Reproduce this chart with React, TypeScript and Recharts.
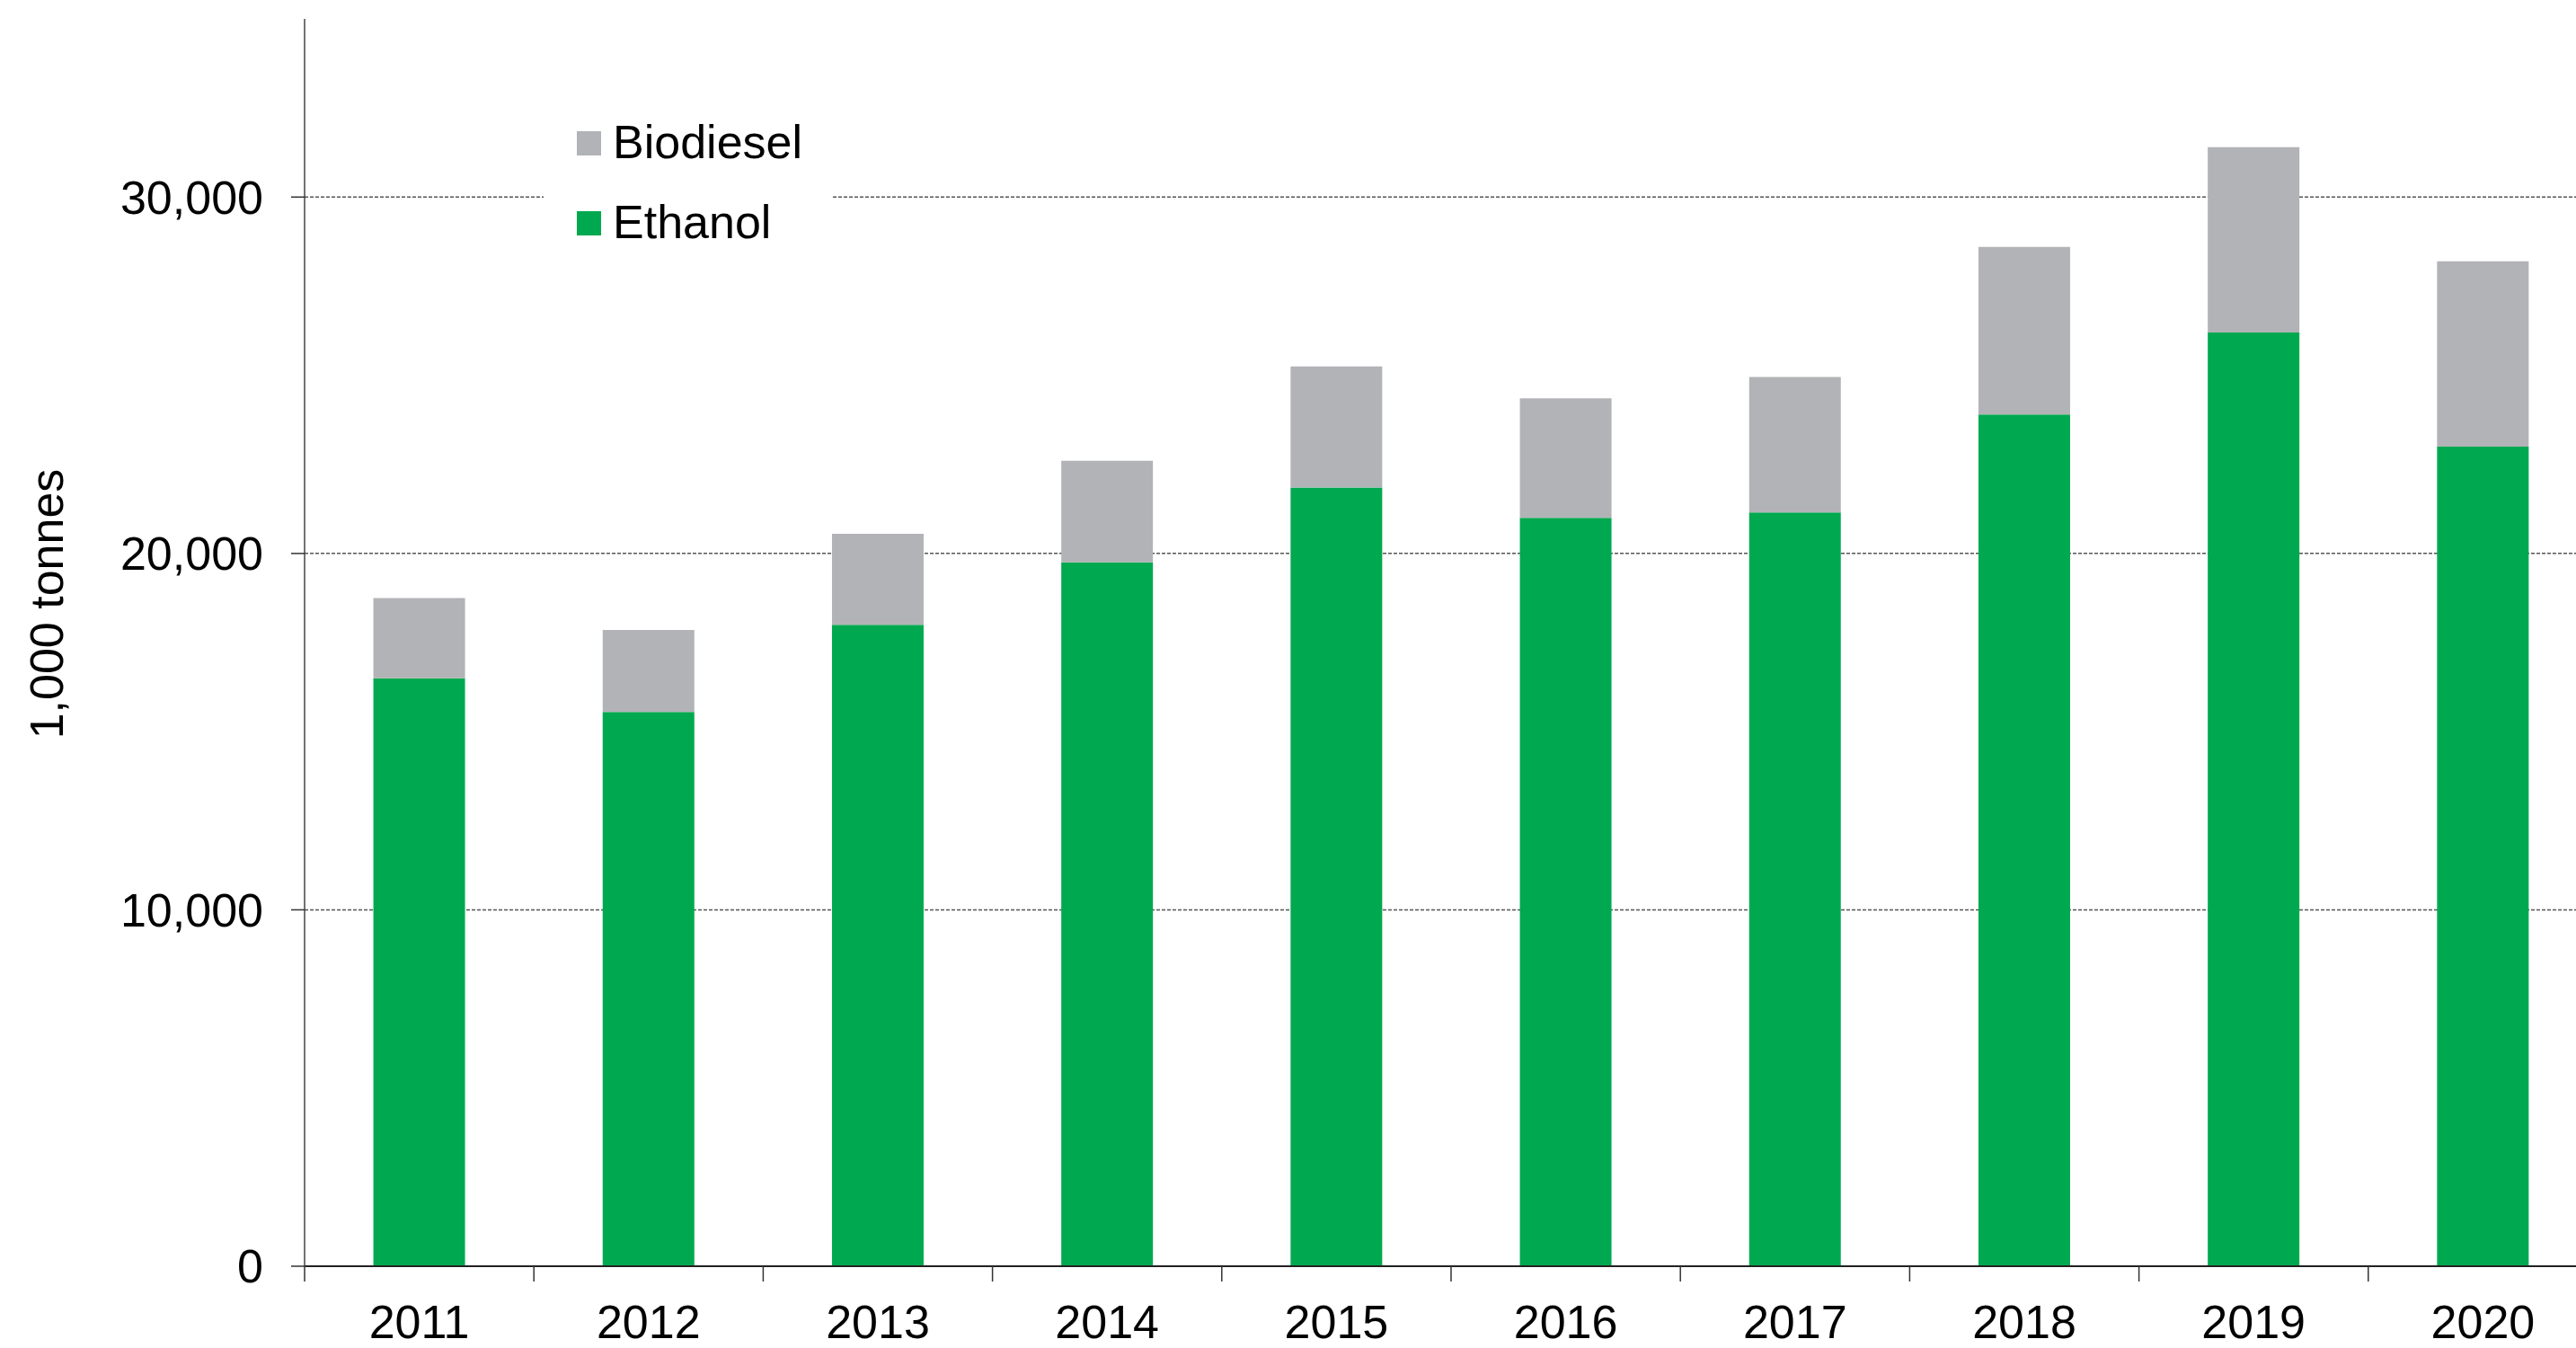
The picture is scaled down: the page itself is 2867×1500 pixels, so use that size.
import React from 'react';
import { BarChart, Bar, XAxis, YAxis, CartesianGrid, Legend } from 'recharts';

// ---- data ----
const years = ['2011', '2012', '2013', '2014', '2015', '2016', '2017', '2018', '2019', '2020'];
const ethanol = [16500, 15550, 18000, 19750, 21850, 21000, 21150, 23900, 26200, 23000];
const biodiesel = [2250, 2300, 2550, 2850, 3400, 3350, 3800, 4700, 5200, 5200];
const yTicks = [0, 10000, 20000, 30000];
const yMax = 35000;
const yAxisTitle = '1,000 tonnes';
const legendOrder = [
  { key: 'biodiesel', name: 'Biodiesel', color: '#b2b3b6' },
  { key: 'ethanol', name: 'Ethanol', color: '#00a94f' },
];

const data = years.map((year, i) => ({ year, ethanol: ethanol[i], biodiesel: biodiesel[i] }));

// ---- layout ----
const FONT = '"Liberation Sans", Arial, Helvetica, sans-serif';
const CHART_W = 2900;
const CHART_H = 1500;
const PLOT_LEFT = 339;
const PLOT_RIGHT = 2891;
const CAT_W = (PLOT_RIGHT - PLOT_LEFT) / years.length;
const X_TICK_SIZE = 17;
const X_TICK_MARGIN = 26;

const fmt = (v: number) => v.toLocaleString('en-US');

const XTick = (props: any) => {
  const { x, y, payload } = props;
  const half = CAT_W / 2;
  const axisY = y - X_TICK_SIZE - X_TICK_MARGIN;
  return (
    <g>
      <line x1={x - half} x2={x - half} y1={axisY} y2={axisY + X_TICK_SIZE} stroke="#333" strokeWidth={1.5} />
      <text x={x} y={y} dy="0.71em" textAnchor="middle" fontSize={52} fill="#000" fontFamily={FONT}>
        {payload.value}
      </text>
    </g>
  );
};

const LegendContent = () => (
  <div style={{ position: 'relative', width: 321, height: 190, background: '#fff', fontFamily: FONT }}>
    {legendOrder.map((s, i) => (
      <React.Fragment key={s.key}>
        <div
          style={{
            position: 'absolute',
            left: 37,
            top: 36 + i * 89,
            width: 27,
            height: 27,
            background: s.color,
          }}
        />
        <div
          style={{
            position: 'absolute',
            left: 77,
            top: 22 + i * 89,
            fontSize: 52,
            lineHeight: '52px',
            color: '#000',
            whiteSpace: 'nowrap',
          }}
        >
          {s.name}
        </div>
      </React.Fragment>
    ))}
  </div>
);

const YTitle = () => (
  <text
    x={52}
    y={672}
    transform="rotate(-90 52 672)"
    textAnchor="middle"
    dominantBaseline="central"
    fontSize={52}
    fill="#000"
    fontFamily={FONT}
  >
    {yAxisTitle}
  </text>
);

export default function App() {
  return (
    <div
      style={{
        position: 'absolute',
        left: 0,
        top: 0,
        width: 2867,
        height: 1500,
        overflow: 'hidden',
        background: '#fff',
      }}
    >
      <BarChart
        width={CHART_W}
        height={CHART_H}
        data={data}
        margin={{ top: 21, right: CHART_W - PLOT_RIGHT, left: 0, bottom: 0 }}
        barCategoryGap="30%"
      >
        <CartesianGrid
          horizontal
          vertical={false}
          horizontalValues={yTicks}
          stroke="#555"
          strokeWidth={1.5}
          strokeDasharray="4 2"
        />
        <XAxis
          dataKey="year"
          height={91}
          axisLine={{ stroke: '#222', strokeWidth: 2 }}
          tickLine={false}
          tickSize={X_TICK_SIZE}
          tickMargin={X_TICK_MARGIN}
          tick={<XTick />}
          interval={0}
        />
        <YAxis
          width={PLOT_LEFT}
          domain={[0, yMax]}
          ticks={yTicks}
          allowDataOverflow
          tickFormatter={fmt}
          axisLine={{ stroke: '#444', strokeWidth: 1.5 }}
          tickLine={{ stroke: '#333', strokeWidth: 1.5 }}
          tickSize={15}
          tickMargin={31}
          tick={{ fontSize: 52, fill: '#000', fontFamily: FONT }}
          label={{ content: () => <YTitle /> }}
        />
        <Legend
          layout="horizontal"
          verticalAlign="middle"
          align="center"
          content={() => <LegendContent />}
          wrapperStyle={{ position: 'absolute', left: 605, top: 110, width: 321, height: 190 }}
        />
        <Bar dataKey="ethanol" name="Ethanol" stackId="a" fill="#00a94f" isAnimationActive={false} />
        <Bar dataKey="biodiesel" name="Biodiesel" stackId="a" fill="#b2b3b6" isAnimationActive={false} />
      </BarChart>
    </div>
  );
}
